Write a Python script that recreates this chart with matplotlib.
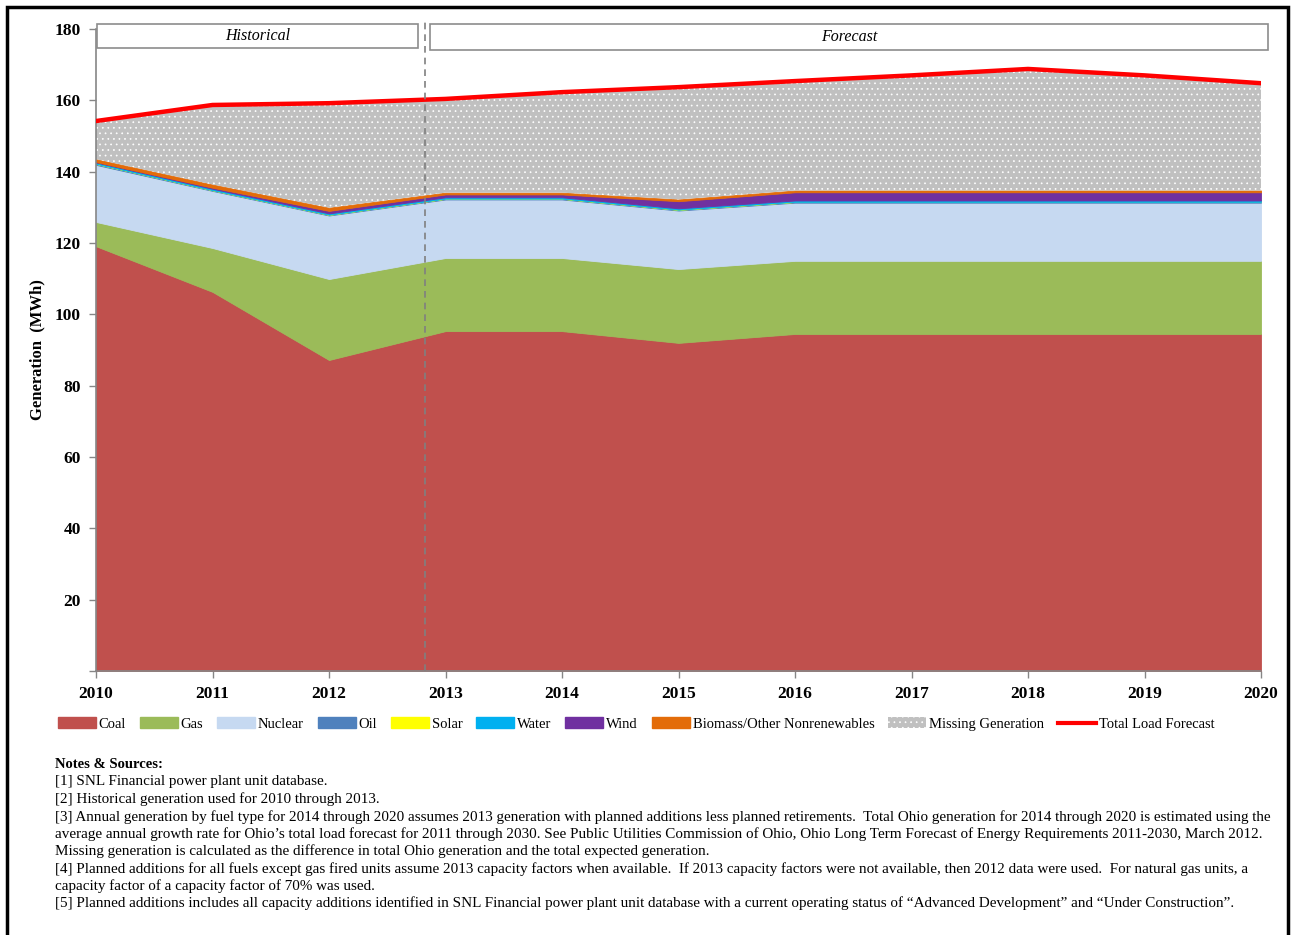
import numpy as np
import matplotlib
matplotlib.use("Agg")
import matplotlib.pyplot as plt
from matplotlib.patches import Patch, Rectangle
from matplotlib.lines import Line2D

plt.rcParams['font.family'] = ['Liberation Serif', 'DejaVu Serif']
plt.rcParams['hatch.linewidth'] = 0.5

# ---- data (TWh-scale generation, labelled MWh on the chart) ----
years = [2010, 2011, 2012, 2013, 2014, 2015, 2016, 2017, 2018, 2019, 2020]
coal = [119.1, 106.3, 87.2, 95.3, 95.3, 92.0, 94.5, 94.5, 94.5, 94.5, 94.5]
gas = [6.8, 12.3, 22.7, 20.5, 20.5, 20.7, 20.5, 20.5, 20.5, 20.5, 20.5]
nuclear = [16.0, 16.0, 17.8, 16.4, 16.4, 16.4, 16.3, 16.3, 16.3, 16.3, 16.3]
oil = [0.3, 0.2, 0.2, 0.2, 0.2, 0.2, 0.2, 0.2, 0.2, 0.2, 0.2]
solar = [0.0, 0.0, 0.0, 0.02, 0.02, 0.02, 0.02, 0.02, 0.02, 0.02, 0.02]
water = [0.4, 0.4, 0.4, 0.4, 0.4, 0.4, 0.4, 0.4, 0.4, 0.4, 0.4]
wind = [0.1, 0.3, 0.7, 0.8, 0.8, 2.0, 2.3, 2.3, 2.3, 2.3, 2.3]
biomass = [0.8, 0.9, 0.9, 0.5, 0.5, 0.5, 0.5, 0.5, 0.5, 0.5, 0.5]
missing = [10.7, 22.3, 29.3, 26.3, 28.2, 31.5, 30.7, 32.3, 34.1, 32.3, 30.1]
total_load = [154.2, 158.7, 159.2, 160.4, 162.3, 163.7, 165.4, 167.0, 168.8, 167.0, 164.8]

series_names = ["Coal", "Gas", "Nuclear", "Oil", "Solar", "Water", "Wind",
                "Biomass/Other Nonrenewables", "Missing Generation"]
series_values = [coal, gas, nuclear, oil, solar, water, wind, biomass, missing]
series_colors = ["#C0504D", "#9BBB59", "#C6D9F1", "#4F81BD", "#FFFF00",
                 "#00B0F0", "#7030A0", "#E36C09", "#C0C0C0"]
total_label = "Total Load Forecast"

y_ticks = [0, 20, 40, 60, 80, 100, 120, 140, 160, 180]
y_tick_labels = ["", "20", "40", "60", "80", "100", "120", "140", "160", "180"]

notes_title = "Notes & Sources:"
notes_lines = [
    "[1] SNL Financial power plant unit database.",
    "[2] Historical generation used for 2010 through 2013.",
    "[3] Annual generation by fuel type for 2014 through 2020 assumes 2013 generation with planned additions less planned retirements.  Total Ohio generation for 2014 through 2020 is estimated using the",
    "average annual growth rate for Ohio\u2019s total load forecast for 2011 through 2030. See Public Utilities Commission of Ohio, Ohio Long Term Forecast of Energy Requirements 2011-2030, March 2012.",
    "Missing generation is calculated as the difference in total Ohio generation and the total expected generation.",
    "[4] Planned additions for all fuels except gas fired units assume 2013 capacity factors when available.  If 2013 capacity factors were not available, then 2012 data were used.  For natural gas units, a",
    "capacity factor of a capacity factor of 70% was used.",
    "[5] Planned additions includes all capacity additions identified in SNL Financial power plant unit database with a current operating status of \u201cAdvanced Development\u201d and \u201cUnder Construction\u201d.",
]

W, H = 1291, 935
fig = plt.figure(figsize=(W / 100, H / 100), dpi=100)
ax = fig.add_axes([96 / W, 1 - 671 / H, (1261 - 96) / W, (671 - 29) / H])

x = np.array(years, dtype=float)
base = np.zeros(len(years))
for name, vals, col in zip(series_names, series_values, series_colors):
    top = base + np.array(vals)
    if name == "Missing Generation":
        ax.fill_between(x, base, top, facecolor=col, edgecolor="white",
                        hatch="...", linewidth=0, zorder=2)
    else:
        ax.fill_between(x, base, top, facecolor=col, edgecolor=col,
                        linewidth=0.6, zorder=2)
    base = top

ax.plot(x, total_load, color="#FF0000", lw=3.2, zorder=4, solid_joinstyle="miter")

ax.set_xlim(2010, 2020)
ax.set_ylim(0, 180)
ax.set_xticks(years)
ax.set_xticklabels([str(y) for y in years], fontsize=12.5, fontweight="bold")
ax.set_yticks(y_ticks)
ax.set_yticklabels(y_tick_labels, fontsize=12.5, fontweight="bold")
ax.tick_params(axis="both", direction="out", length=5, color="#868686", width=1, pad=6)
ax.tick_params(axis="y", pad=6)
for s in ["top", "right"]:
    ax.spines[s].set_visible(False)
for s in ["left", "bottom"]:
    ax.spines[s].set_color("#868686")
    ax.spines[s].set_linewidth(1.2)
ax.set_ylabel("Generation  (MWh)", fontsize=12, fontweight="bold")
ax.yaxis.set_label_coords((45 - 96) / (1261 - 96), 0.5)

# Historical / forecast split
ax.axvline(2012.82, ymin=0, ymax=182 / 180, color="#808080", lw=1.2,
           ls=(0, (4, 3)), clip_on=False, zorder=5)
for x0, x1, y0, y1, txt in [(2010.01, 2012.76, 174.7, 181.4, "Historical"),
                            (2012.87, 2020.06, 174.1, 181.4, "Forecast")]:
    ax.add_patch(Rectangle((x0, y0), x1 - x0, y1 - y0, facecolor="white",
                           edgecolor="#8C8C8C", lw=1.2, clip_on=False, zorder=6))
    ax.text((x0 + x1) / 2, (y0 + y1) / 2, txt, ha="center", va="center",
            fontsize=11.5, style="italic", zorder=7)

# Legend
handles = []
for name, col in zip(series_names, series_colors):
    if name == "Missing Generation":
        handles.append(Patch(facecolor=col, edgecolor="white", hatch="...", lw=0, label=name))
    else:
        handles.append(Patch(facecolor=col, edgecolor=col, label=name))
handles.append(Line2D([], [], color="#FF0000", lw=3, label=total_label))
fig.legend(handles=handles, loc="center", bbox_to_anchor=(636 / W, 1 - 724 / H),
           ncol=10, frameon=False, fontsize=10.5, handlelength=2.6, handleheight=0.7,
           handletextpad=0.2, columnspacing=0.95, borderpad=0)

# Notes
fs = 10.5
fig.text(55 / W, 1 - 765 / H, notes_title, fontsize=fs, fontweight="bold", va="center")
note_y = [782, 799, 817, 834, 851, 869, 886, 903]
texts = []
for yy, line in zip(note_y, notes_lines):
    texts.append(fig.text(55 / W, 1 - yy / H, line, fontsize=fs, va="center"))
fig.canvas.draw()
r = fig.canvas.get_renderer()
widest = max(t.get_window_extent(r).width for t in texts)
scale = 1212 / widest
for t in texts:
    t.set_fontsize(fs * scale)

# Outer frame
fig.add_artist(Rectangle((7 / W, -0.01), (1288 - 7) / W, 1 - 7 / H + 0.01,
                         transform=fig.transFigure, fill=False,
                         edgecolor="black", lw=2.5))

fig.savefig("out.png", dpi=100)
